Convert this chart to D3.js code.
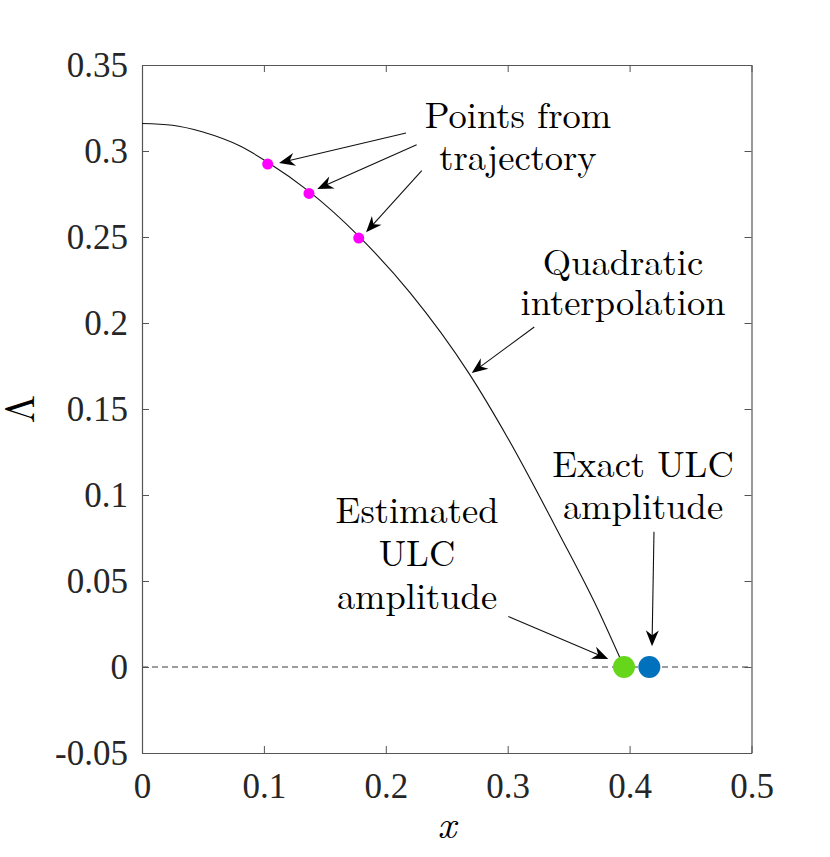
<!DOCTYPE html>
<html><head><meta charset="utf-8">
<script src="https://cdn.jsdelivr.net/npm/d3@7"></script>
<style>
body{margin:0;background:#fff;}
</style></head>
<body><div id="chart"></div>
<script>
// ---- data ----
const curveX   = [0, 0.025, 0.05, 0.08, 0.1031, 0.137, 0.1778, 0.22, 0.2685, 0.2992, 0.3429, 0.3716, 0.3954];
const curveL   = [0.316, 0.315, 0.311, 0.303, 0.2935, 0.2765, 0.2505, 0.2175, 0.1704, 0.1342, 0.0765, 0.037, 0];
const trajX    = [0.1031, 0.137, 0.1778];
const trajL    = [0.2924, 0.2753, 0.2494];
const estimatedAmp = 0.3954;
const exactAmp     = 0.4162;
const xTicks = [0, 0.1, 0.2, 0.3, 0.4, 0.5];
const yTicks = [-0.05, 0, 0.05, 0.1, 0.15, 0.2, 0.25, 0.3, 0.35];
const xTickLabels = ["0", "0.1", "0.2", "0.3", "0.4", "0.5"];
const yTickLabels = ["-0.05", "0", "0.05", "0.1", "0.15", "0.2", "0.25", "0.3", "0.35"];
// annotation arrows [x0, y0, x1(tip), y1(tip)] in data units
const arrows = [
  [0.2166, 0.3105, 0.1124, 0.2930],
  [0.2253, 0.3037, 0.1438, 0.2779],
  [0.2295, 0.2886, 0.1838, 0.2527],
  [0.3218, 0.1977, 0.2705, 0.1709],
  [0.4200, 0.0787, 0.4184, 0.0120],
  [0.3005, 0.0294, 0.3825, 0.0047]
];
// annotation text lines: [text, x center, baseline y] in data units
const notes = [
  ["Points from", 0.3084, 0.3135],
  ["trajectory", 0.3084, 0.2891],
  ["Quadratic", 0.3946, 0.2281],
  ["interpolation", 0.3946, 0.2048],
  ["Exact ULC", 0.411, 0.1104],
  ["amplitude", 0.411, 0.0860],
  ["Estimated", 0.2256, 0.0838],
  ["ULC", 0.2256, 0.0588],
  ["amplitude", 0.2256, 0.0338]
];

const TICKFONT = "'Liberation Serif'";
const TEXFONT = "'Latin Modern Roman'";

// ---- layout ----
const W = 830, H = 857;
const m = {left: 142, top: 65, right: 78.5, bottom: 104};
const iw = W - m.left - m.right, ih = H - m.top - m.bottom;

const svg = d3.select("#chart").append("svg").attr("width", W).attr("height", H);
const g = svg.append("g").attr("transform", `translate(${m.left},${m.top})`);

const x = d3.scaleLinear().domain([0, 0.5]).range([0, iw]);
const y = d3.scaleLinear().domain([-0.05, 0.35]).range([ih, 0]);

// zero dashed line
g.append("line").attr("x1", 0).attr("x2", iw).attr("y1", y(0)).attr("y2", y(0))
  .attr("stroke", "#3a3a3a").attr("stroke-width", 1).attr("stroke-dasharray", "6,4");

// axes with inward ticks on all sides
const tl = 7;
const axStyle = sel => {
  sel.attr("font-family", null);
  sel.select(".domain").attr("stroke", "#555").attr("stroke-width", 1.2);
  sel.selectAll(".tick line").attr("stroke", "#555").attr("stroke-width", 1);
  sel.selectAll("text").attr("font-size", 35).attr("fill", "#262626")
     .style("font-family", TICKFONT);
};
g.append("g").attr("transform", `translate(0,${ih})`)
  .call(d3.axisBottom(x).tickValues(xTicks).tickSize(-tl).tickSizeOuter(0)
    .tickFormat((d, i) => xTickLabels[i]).tickPadding(20))
  .call(axStyle);
g.append("g")
  .call(d3.axisLeft(y).tickValues(yTicks).tickSize(-tl).tickSizeOuter(0)
    .tickFormat((d, i) => yTickLabels[i]).tickPadding(14))
  .call(axStyle)
  .selectAll("text").attr("dy", "0.34em");
g.append("g")
  .call(d3.axisTop(x).tickValues(xTicks).tickSize(-tl).tickSizeOuter(0).tickFormat(""))
  .call(axStyle);
g.append("g").attr("transform", `translate(${iw},0)`)
  .call(d3.axisRight(y).tickValues(yTicks).tickSize(-tl).tickSizeOuter(0).tickFormat(""))
  .call(axStyle);

// curve
const curvePts = curveX.map((d, i) => [d, curveL[i]]);
g.append("path").datum(curvePts)
  .attr("fill", "none").attr("stroke", "#111").attr("stroke-width", 1.1)
  .attr("d", d3.line().x(d => x(d[0])).y(d => y(d[1])).curve(d3.curveMonotoneX));

// trajectory points
g.selectAll(".traj").data(trajX.map((d, i) => [d, trajL[i]])).enter().append("circle")
  .attr("cx", d => x(d[0])).attr("cy", d => y(d[1])).attr("r", 5.5).attr("fill", "#FF00FF");

// amplitudes
g.append("circle").attr("cx", x(estimatedAmp)).attr("cy", y(0)).attr("r", 11).attr("fill", "#66D61A");
g.append("circle").attr("cx", x(exactAmp)).attr("cy", y(0)).attr("r", 11).attr("fill", "#0072BD");

// arrows
const headLen = 16, headW = 6.5, back = 5;
arrows.forEach(a => {
  const x0 = x(a[0]), y0 = y(a[1]), x1 = x(a[2]), y1 = y(a[3]);
  const ang = Math.atan2(y1 - y0, x1 - x0);
  const ux = Math.cos(ang), uy = Math.sin(ang), px = -uy, py = ux;
  g.append("line").attr("x1", x0).attr("y1", y0)
    .attr("x2", x1 - ux * headLen * 0.6).attr("y2", y1 - uy * headLen * 0.6)
    .attr("stroke", "#111").attr("stroke-width", 1.1);
  const bx = x1 - ux * headLen, by = y1 - uy * headLen;
  const p = [
    [x1, y1],
    [bx + px * headW, by + py * headW],
    [x1 - ux * (headLen - back), y1 - uy * (headLen - back)],
    [bx - px * headW, by - py * headW]
  ];
  g.append("path").attr("d", "M" + p.map(q => q.join(",")).join("L") + "Z").attr("fill", "#000");
});

// annotation text
g.selectAll(".note").data(notes).enter().append("text")
  .attr("x", d => x(d[1])).attr("y", d => y(d[2]))
  .attr("text-anchor", "middle").attr("font-size", 36.5).attr("fill", "#000")
  .style("font-family", TEXFONT)
  .text(d => d[0]);

// axis labels
svg.append("text").attr("x", m.left + iw / 2).attr("y", 838)
  .attr("text-anchor", "middle").attr("font-size", 40).attr("font-style", "italic")
  .attr("fill", "#000").style("font-family", TEXFONT).text("x");
svg.append("text").attr("transform", `translate(34,${m.top + ih / 2}) rotate(-90)`)
  .attr("text-anchor", "middle").attr("font-size", 41)
  .attr("fill", "#000").style("font-family", TEXFONT).text("Λ");
</script></body></html>
